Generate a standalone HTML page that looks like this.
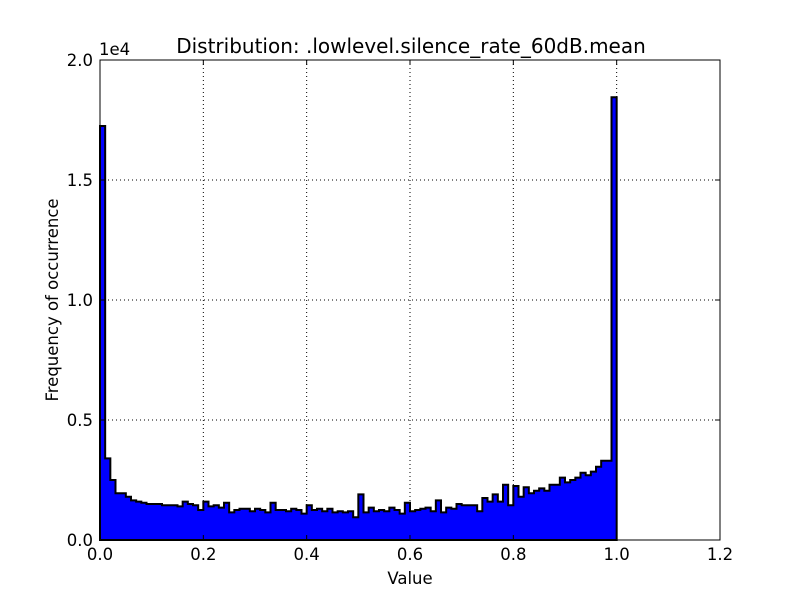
<!DOCTYPE html>
<html><head><meta charset="utf-8"><style>
body{margin:0;background:#fff;}
svg text{font-family:"DejaVu Sans","Liberation Sans",sans-serif;}
</style></head><body>
<svg id="chart" width="800" height="600" xmlns="http://www.w3.org/2000/svg">
<rect width="800" height="600" fill="#fff"/>
<g id="grid"></g>
<path id="hist" fill="#0000ff" stroke="#000" stroke-width="2"/>
<rect x="100" y="60" width="620" height="480" fill="none" stroke="#000" stroke-width="1"/>
<g id="ticks"></g>
<text x="411" y="53" text-anchor="middle" font-size="20">Distribution: .lowlevel.silence_rate_60dB.mean</text>
<text x="410" y="584" text-anchor="middle" font-size="16.5">Value</text>
<text transform="translate(58,300) rotate(-90)" text-anchor="middle" font-size="16.5">Frequency of occurrence</text>
<text x="99" y="55" font-size="16.5">1e4</text>
</svg>
<script>
const counts = [17.25,3.4,2.5,1.95,1.95,1.8,1.65,1.6,1.55,1.5,1.5,1.5,1.45,1.45,1.45,1.4,1.6,1.5,1.45,1.25,
1.6,1.4,1.45,1.35,1.55,1.15,1.25,1.3,1.3,1.2,1.3,1.25,1.15,1.55,1.25,1.25,1.2,1.3,1.25,1.1,
1.45,1.25,1.3,1.2,1.3,1.15,1.2,1.15,1.2,0.95,1.9,1.15,1.35,1.2,1.25,1.2,1.35,1.25,1.1,1.55,
1.2,1.25,1.3,1.35,1.2,1.65,1.15,1.35,1.3,1.5,1.45,1.45,1.45,1.2,1.75,1.6,1.9,1.6,2.3,1.45,
2.25,1.8,2.2,1.95,2.05,2.15,2.05,2.3,2.3,2.6,2.4,2.5,2.6,2.8,2.7,2.85,3.05,3.3,3.3,18.45];
const binStart = 0, binWidth = 0.01;
const xTicks = [0,0.2,0.4,0.6,0.8,1.0,1.2];
const xTickLabels = ["0.0","0.2","0.4","0.6","0.8","1.0","1.2"];
const yTicks = [0,5,10,15,20];
const yTickLabels = ["0.0","0.5","1.0","1.5","2.0"];
const X = v => 100 + v/1.2*620;
const Y = v => 540 - v/20*480;
const NS = "http://www.w3.org/2000/svg";
let d = "M" + X(binStart) + "," + Y(0);
counts.forEach((c,i)=>{
  const x0 = X(binStart+i*binWidth), x1 = X(binStart+(i+1)*binWidth);
  d += " L" + x0 + "," + Y(c) + " L" + x1 + "," + Y(c);
});
d += " L" + X(binStart+counts.length*binWidth) + "," + Y(0) + " Z";
document.getElementById('hist').setAttribute('d', d);
const grid = document.getElementById('grid'), ticks = document.getElementById('ticks');
function mk(tag, attrs, parent){const e=document.createElementNS(NS,tag);for(const k in attrs)e.setAttribute(k,attrs[k]);parent.appendChild(e);return e;}
xTicks.forEach((t,i)=>{
  const x = X(t);
  if(i>0 && i<xTicks.length-1){
    const g = mk('line',{x1:x,x2:x,y1:60,y2:540,stroke:'#000','stroke-dasharray':'1,3','stroke-width':1},grid);
    
    
  }
  mk('line',{x1:x,x2:x,y1:540,y2:535,stroke:'#000'},ticks);
  mk('line',{x1:x,x2:x,y1:60,y2:65,stroke:'#000'},ticks);
  const tx = mk('text',{x:x,y:560,'text-anchor':'middle','font-size':16.5},ticks);
  tx.textContent = xTickLabels[i];
  
  
});
yTicks.forEach((t,i)=>{
  const y = Y(t);
  if(i>0 && i<yTicks.length-1){
    const g = mk('line',{x1:100,x2:720,y1:y,y2:y,stroke:'#000','stroke-dasharray':'1,3','stroke-width':1},grid);
    
    
  }
  mk('line',{x1:100,x2:105,y1:y,y2:y,stroke:'#000'},ticks);
  mk('line',{x1:715,x2:720,y1:y,y2:y,stroke:'#000'},ticks);
  const tx = mk('text',{x:93,y:y+6,'text-anchor':'end','font-size':16.5},ticks);
  tx.textContent = yTickLabels[i];
  
  
});
</script>
</body></html>
